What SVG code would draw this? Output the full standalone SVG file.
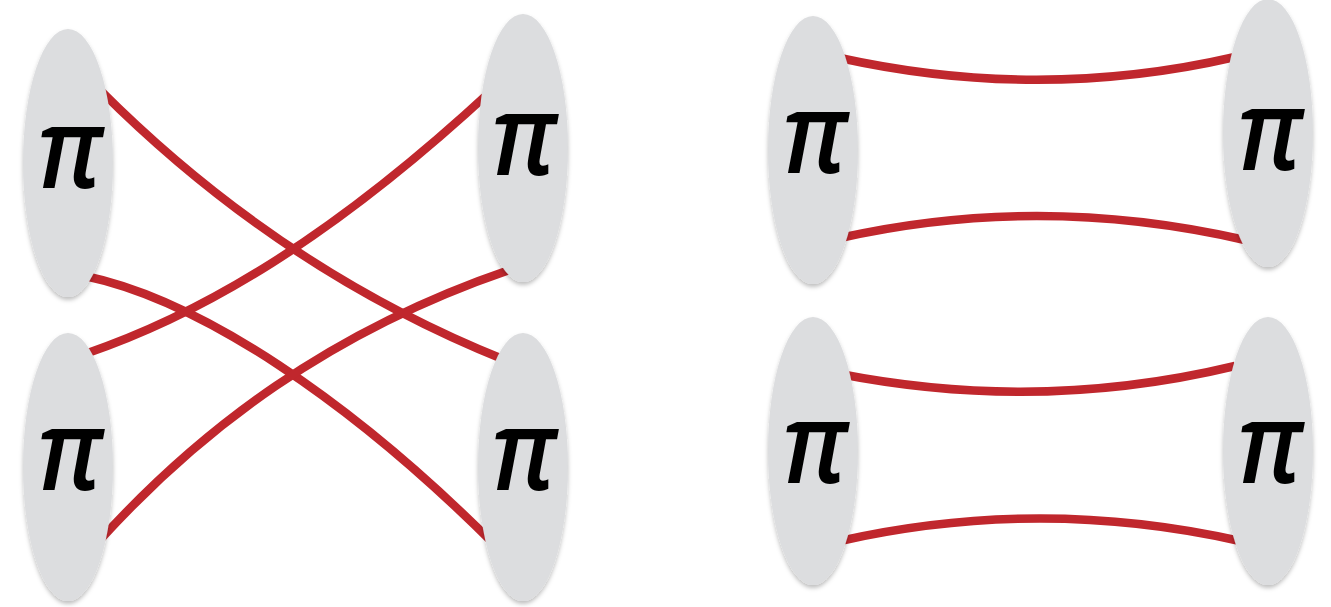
<svg xmlns="http://www.w3.org/2000/svg" width="1331" height="607" viewBox="0 0 1331 607">
<style>
.node{fill:#dcdddf;filter:url(#sh)}
.pi{font-family:"Open Sans","Noto Sans","DejaVu Sans",sans-serif;font-style:italic;font-weight:600;font-size:96px;fill:#000;text-anchor:middle}
.link{fill:none;stroke:#c0272d;stroke-width:8.5;stroke-linecap:butt}
</style>
<defs>
<filter id="sh" x="-20%" y="-10%" width="140%" height="125%">
<feDropShadow dx="0" dy="3" stdDeviation="2" flood-color="#000" flood-opacity="0.25"/>
</filter>
</defs>
<rect width="1331" height="607" fill="#fff"/>
<g id="connectors">
<path class="link" d="M100,90 C200,190 330,290 505,360"/>
<path class="link" d="M85,276 C200,300 350,400 495,545"/>
<path class="link" d="M85,354 C200,315 330,240 492,90"/>
<path class="link" d="M100,540 C200,430 330,330 515,268"/>
<path class="link" d="M840,58 Q1040,102 1235,57"/>
<path class="link" d="M840,238 Q1040,193 1245,240"/>
<path class="link" d="M840,374 Q1040,413 1235,366"/>
<path class="link" d="M840,541 Q1040,496 1240,541"/>
</g>
<g id="n1"><ellipse class="node" cx="68" cy="163" rx="45" ry="134"/><text class="pi" transform="translate(70,188) scale(1.04,1.18)">π</text></g>
<g id="n2"><ellipse class="node" cx="68" cy="467" rx="45" ry="134"/><text class="pi" transform="translate(70,490) scale(1.04,1.18)">π</text></g>
<g id="n3"><ellipse class="node" cx="523" cy="148" rx="45" ry="134"/><text class="pi" transform="translate(524,175) scale(1.04,1.18)">π</text></g>
<g id="n4"><ellipse class="node" cx="523" cy="467" rx="45" ry="134"/><text class="pi" transform="translate(524,490) scale(1.04,1.18)">π</text></g>
<g id="n5"><ellipse class="node" cx="813" cy="150" rx="45" ry="134"/><text class="pi" transform="translate(815,173) scale(1.04,1.18)">π</text></g>
<g id="n6"><ellipse class="node" cx="813" cy="451" rx="45" ry="134"/><text class="pi" transform="translate(815,483) scale(1.04,1.18)">π</text></g>
<g id="n7"><ellipse class="node" cx="1268" cy="133" rx="45" ry="134"/><text class="pi" transform="translate(1270,170) scale(1.04,1.18)">π</text></g>
<g id="n8"><ellipse class="node" cx="1268" cy="451" rx="45" ry="134"/><text class="pi" transform="translate(1270,483) scale(1.04,1.18)">π</text></g>
</svg>
